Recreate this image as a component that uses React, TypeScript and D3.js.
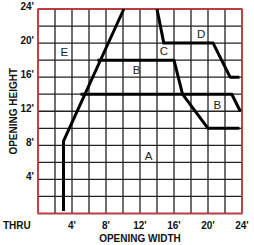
import React from 'react';
import * as d3 from 'd3';

// grid every 2 feet, labels every 4 feet
const gridFeet = d3.range(0, 25, 2);
const tickFeet = [4, 8, 12, 16, 20, 24];

// boundary lines, [width ft, height ft]
const lineE: [number, number][] = [[3, 0.3], [3, 8.5], [10.1, 24]];
const line18: [number, number][] = [[7, 18], [16, 18], [17, 14], [20, 10], [23.7, 10]];
const line14: [number, number][] = [[5, 14], [22.8, 14], [23.8, 12]];
const lineC: [number, number][] = [[14, 24], [14.8, 20], [20.6, 20], [22.6, 16], [23.7, 16]];

const zoneLabels = [
  { name: 'E', w: 3.1, h: 19 },
  { name: 'C', w: 14.8, h: 19.1 },
  { name: 'D', w: 19.2, h: 21.05 },
  { name: 'B', w: 11.6, h: 16.8 },
  { name: 'B', w: 21.1, h: 12.7 },
  { name: 'A', w: 13, h: 6.75 },
];

const W = 254;
const H = 245;

const App: React.FC = () => {
  const x = d3.scaleLinear().domain([0, 24]).range([38, 242]);
  const y = d3.scaleLinear().domain([0, 24]).range([213.5, 9]);
  const line = d3
    .line<[number, number]>()
    .x((d) => x(d[0]))
    .y((d) => y(d[1]));

  const font = "'Liberation Sans', Arial, sans-serif";

  return (
    <svg
      width={W}
      height={H}
      style={{ position: 'fixed', left: 0, top: 0, background: '#fff' }}
      fontFamily={font}
    >
      {/* grid */}
      <g stroke="#222" strokeWidth={1.3}>
        {gridFeet.map((f) => (
          <line key={'v' + f} x1={x(f)} x2={x(f)} y1={y(0)} y2={y(24)} />
        ))}
        {gridFeet.map((f) => (
          <line key={'h' + f} x1={x(0)} x2={x(24)} y1={y(f)} y2={y(f)} />
        ))}
      </g>
      <rect
        x={x(0)}
        y={y(24)}
        width={x(24) - x(0)}
        height={y(0) - y(24)}
        fill="none"
        stroke="#d9343a"
        strokeWidth={1.5}
      />

      {/* boundaries */}
      <g fill="none" stroke="#000" strokeWidth={3} strokeLinejoin="round">
        {[lineE, line18, line14, lineC].map((pts, i) => (
          <path key={i} d={line(pts) ?? ''} />
        ))}
      </g>

      {/* zone letters */}
      <g fontSize={11.5} fill="#222" textAnchor="middle" dominantBaseline="central">
        {zoneLabels.map((z, i) => (
          <text key={i} x={x(z.w)} y={y(z.h)}>
            {z.name}
          </text>
        ))}
      </g>

      {/* axis labels */}
      <g fontSize={10} fontWeight="bold" fill="#111">
        {tickFeet.map((f) => (
          <text key={'y' + f} x={34} y={y(f) + 0.5} textAnchor="end">
            {f}'
          </text>
        ))}
        {tickFeet.map((f) => (
          <text key={'x' + f} x={x(f)} y={229} textAnchor="middle">
            {f}'
          </text>
        ))}
        <text x={3} y={229}>THRU</text>
        <text x={140} y={242} textAnchor="middle">
          OPENING WIDTH
        </text>
        <text
          transform={`translate(16.5,${(y(0) + y(24)) / 2}) rotate(-90)`}
          textAnchor="middle"
        >
          OPENING HEIGHT
        </text>
      </g>
    </svg>
  );
};

export default App;
